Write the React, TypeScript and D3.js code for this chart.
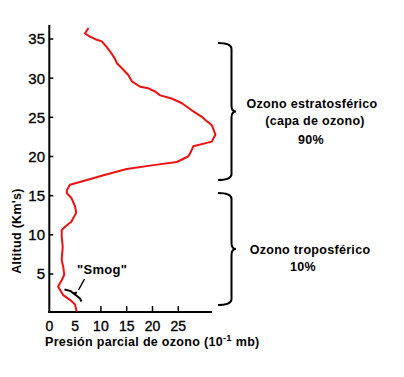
import React from "react";
import * as d3 from "d3";

// Ozone partial pressure (10^-1 mb) and altitude (km), read from the profile, top to bottom
const pressure = [7.6, 6.9, 7.9, 9.2, 10.2, 11.1, 11.8, 12.7, 13.1, 14.3, 15.3, 16.0, 17.6, 19.2, 20.5, 21.5, 23.7, 25.7, 27.6, 29.5, 30.2, 31.5, 32.2, 31.5, 27.9, 27.3, 26.9, 24.7, 20.2, 15.0, 10.5, 7.3, 4.0, 3.4, 3.4, 4.3, 5.0, 5.2, 4.3, 3.0, 2.4, 2.4, 2.6, 2.4, 2.7, 2.9, 2.4, 1.7, 2.7, 4.0, 5.0, 5.3];
const altitude = [36.4, 35.7, 35.3, 34.9, 34.7, 34.0, 33.4, 32.5, 31.9, 31.1, 30.4, 29.6, 28.9, 28.7, 28.3, 27.8, 27.4, 26.8, 25.9, 25.1, 24.7, 24.0, 22.8, 21.9, 21.3, 20.4, 20.0, 19.3, 18.9, 18.4, 17.6, 17.0, 16.4, 15.7, 15.3, 14.7, 13.6, 12.8, 11.7, 11.0, 10.6, 9.8, 8.5, 6.8, 5.9, 4.9, 4.2, 3.4, 2.3, 1.7, 1.1, 0.2];

const xTickLabels = [0, 5, 10, 15, 20, 25];
const xTickMarks = [10, 15, 20, 25];
const yTicks = [5, 10, 15, 20, 25, 30, 35];

const W = 404;
const H = 377;

function brace(x0: number, x1: number, xt: number, yt: number, yb: number) {
  const ym = (yt + yb) / 2;
  const r = 6;
  return `M${x0},${yt} Q${x1},${yt} ${x1},${yt + r} L${x1},${ym - r} Q${x1},${ym} ${xt},${ym} Q${x1},${ym} ${x1},${ym + r} L${x1},${yb - r} Q${x1},${yb} ${x0},${yb}`;
}

export default function App() {
  const x = d3.scaleLinear().domain([0, 25]).range([49.3, 178.3]);
  const y = d3.scaleLinear().domain([5, 35]).range([274, 39]);
  const axisY = 312;
  const pts = pressure.map((p, i) => [p, altitude[i]] as [number, number]);
  const line = d3
    .line<[number, number]>()
    .x((d) => x(d[0]))
    .y((d) => y(d[1]))
    .curve(d3.curveLinear);

  const bold = {
    fontFamily: "'Liberation Sans', Arial, sans-serif",
    fontWeight: 700,
    letterSpacing: "0.3px",
  } as const;
  const tickFont = {
    fontFamily: "'Liberation Sans', Arial, sans-serif",
    stroke: "#000",
    strokeWidth: 0.35,
  } as const;

  return (
    <svg width={W} height={H} style={{ position: "absolute", left: 0, top: 0, background: "#fff" }}>
      {/* axes */}
      <line x1={x(0)} x2={x(0)} y1={25} y2={axisY + 1} stroke="#000" strokeWidth={2} />
      <line x1={x(0) - 1} x2={212} y1={axisY} y2={axisY} stroke="#000" strokeWidth={2} />
      {yTicks.map((t) => (
        <g key={"y" + t}>
          <line x1={x(0)} x2={x(0) + 4} y1={y(t)} y2={y(t)} stroke="#000" strokeWidth={1.5} />
          <text x={45} y={y(t)} dy="0.36em" textAnchor="end" fontSize={15} style={tickFont}>
            {t}
          </text>
        </g>
      ))}
      {xTickMarks.map((t) => (
        <line key={"xm" + t} x1={x(t)} x2={x(t)} y1={axisY - 6} y2={axisY} stroke="#000" strokeWidth={1.5} />
      ))}
      {xTickLabels.map((t) => (
        <text key={"xl" + t} x={x(t)} y={331} textAnchor="middle" fontSize={14} style={tickFont}>
          {t}
        </text>
      ))}
      {/* axis titles */}
      <text transform="translate(21,231) rotate(-90)" textAnchor="middle" fontSize={12.5} style={bold}>
        Altitud (Km's)
      </text>
      <text x={45} y={346} fontSize={12.5} style={bold}>
        Presión parcial de ozono (10
        <tspan dy={-5} fontSize={9.5}>-1</tspan>
        <tspan dy={5}> mb)</tspan>
      </text>
      {/* profile */}
      <path d={line(pts) || ""} fill="none" stroke="#ee1111" strokeWidth={2} strokeLinejoin="round" />
      {/* smog annotation */}
      <text x={77} y={274} fontSize={13} style={bold}>
        "Smog"
      </text>
      <line x1={84.5} y1={279} x2={78.5} y2={290} stroke="#000" strokeWidth={1.5} />
      <path
        d="M64.5,289.5 L70.5,291 L73.5,293.5 L77,292.5 M73.5,293.5 L77,296 L80,298.5 L81.5,301.5"
        fill="none"
        stroke="#000"
        strokeWidth={2}
        strokeLinejoin="round"
      />
      {/* braces */}
      <path d={brace(218, 231.5, 236, 43, 180)} fill="none" stroke="#000" strokeWidth={2} />
      <path d={brace(218, 231.5, 236, 193, 305)} fill="none" stroke="#000" strokeWidth={2} />
      <text x={312} y={108} textAnchor="middle" fontSize={12.5} style={bold}>
        Ozono estratosférico
      </text>
      <text x={315} y={125} textAnchor="middle" fontSize={12.5} style={bold}>
        (capa de ozono)
      </text>
      <text x={311} y={144} textAnchor="middle" fontSize={12.5} style={bold}>
        90%
      </text>
      <text x={310} y={254} textAnchor="middle" fontSize={12.5} style={bold}>
        Ozono troposférico
      </text>
      <text x={303} y={271} textAnchor="middle" fontSize={12.5} style={bold}>
        10%
      </text>
    </svg>
  );
}
